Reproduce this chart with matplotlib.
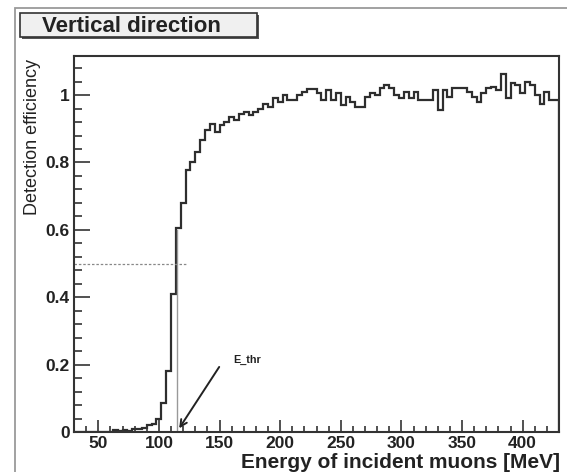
import matplotlib
matplotlib.use("Agg")
import matplotlib.pyplot as plt
from matplotlib.patches import Rectangle
from matplotlib.ticker import MultipleLocator
import numpy as np

# histogram range (MeV) and per-bin detection efficiency, 4 MeV bins
e_min, e_max = 30, 430
efficiency = [
    0, 0, 0, 0, 0, 0, 0, 0, 0.005, 0.002,
    0.005, 0.003, 0.008, 0.01, 0.012, 0.02, 0.025, 0.04, 0.085, 0.18,
    0.41, 0.605, 0.68, 0.777, 0.80, 0.83, 0.867, 0.896, 0.914, 0.89,
    0.91, 0.92, 0.935, 0.925, 0.945, 0.95, 0.94, 0.95, 0.96, 0.975,
    0.965, 0.99, 0.98, 1.0, 0.985, 0.985, 1.0, 1.01, 1.017, 1.017,
    1.007, 0.985, 1.015, 0.985, 1.005, 0.97, 0.995, 0.98, 0.965, 0.965,
    0.995, 1.007, 1.0, 1.02, 1.03, 1.02, 1.0, 0.99, 1.01, 0.99,
    1.01, 0.985, 0.985, 0.985, 1.015, 0.955, 1.015, 0.995, 1.02, 1.02,
    1.02, 1.01, 0.995, 0.98, 1.005, 1.02, 1.025, 1.015, 1.062, 0.99,
    1.035, 1.03, 1.005, 1.04, 1.03, 1.0, 0.975, 1.01, 0.985, 0.985,
]
e_thr = 115
half_eff = 0.5

W, H = 567, 472
fig = plt.figure(figsize=(W / 100, H / 100), dpi=100)
plt.rcParams['font.family'] = ['Liberation Sans', 'DejaVu Sans']

# outer canvas frame
fig.patches.append(Rectangle((15 / W, -0.1), 1.2, (H - 8) / H + 0.1, transform=fig.transFigure,
                             fill=False, edgecolor='#9a9a9a', lw=1.3))

ax = fig.add_axes([74 / W, (H - 432) / H, (559 - 74) / W, (432 - 56) / H])

edges = np.linspace(e_min, e_max, len(efficiency) + 1)
ax.stairs(efficiency, edges, color='#2e2e2e', lw=1.6)

# threshold markers
ax.plot([e_min, 122], [half_eff, half_eff], color='#888888', lw=0.9, ls=(0, (2, 1.5)))
ax.plot([e_thr, e_thr], [0, 0.6], color='#999999', lw=1.0)
ax.annotate('', xy=(e_thr + 0.5, 0.004), xytext=(151, 0.2),
            arrowprops=dict(arrowstyle='->', color='#222222', lw=1.4, mutation_scale=12))
ax.text(161, 0.214, 'E_thr', fontsize=7.8, fontweight='bold', color='#222222', va='center')

ax.set_xlim(e_min, e_max)
ax.set_ylim(0, 1.116)

ax.xaxis.set_major_locator(MultipleLocator(50))
ax.xaxis.set_minor_locator(MultipleLocator(10))
ax.yaxis.set_major_locator(MultipleLocator(0.2))
ax.yaxis.set_minor_locator(MultipleLocator(0.04))
ax.set_yticks([0, 0.2, 0.4, 0.6, 0.8, 1.0])
ax.set_yticklabels(['0', '0.2', '0.4', '0.6', '0.8', '1'])
ax.set_xticks([50, 100, 150, 200, 250, 300, 350, 400])

ax.tick_params(axis='both', which='both', direction='in', color='#333333', width=1.2,
               top=False, right=False, labelcolor='#222222')
ax.tick_params(axis='x', which='major', length=9, pad=3, labelsize=12.5)
ax.tick_params(axis='x', which='minor', length=4.5)
ax.tick_params(axis='y', which='major', length=11.5, pad=3, labelsize=12.5)
ax.tick_params(axis='y', which='minor', length=5.8)
for lbl in ax.get_xticklabels() + ax.get_yticklabels():
    lbl.set_fontweight('bold')

for s in ax.spines.values():
    s.set_color('#333333')
    s.set_linewidth(1.5)

fig.text(560 / W, 1 - 462 / H, 'Energy of incident muons [MeV]', ha='right', va='center',
         fontsize=15, fontweight='bold', color='#222222')
fig.text(33 / W, 1 - 59 / H, 'Detection efficiency', rotation=90, ha='center', va='top',
         fontsize=13, color='#222222')

# title box with shadow
fig.patches.append(Rectangle((22 / W, 1 - 39 / H), 237 / W, 24 / H, transform=fig.transFigure,
                             facecolor='#555555', edgecolor='none'))
fig.patches.append(Rectangle((20 / W, 1 - 37 / H), 237 / W, 24 / H, transform=fig.transFigure,
                             facecolor='#f0f0f0', edgecolor='#333333', lw=1.2))
fig.text(42 / W, 1 - 26.5 / H, 'Vertical direction', ha='left', va='center',
         fontsize=16, fontweight='bold', color='#222222')

fig.savefig('out.png', dpi=100)
